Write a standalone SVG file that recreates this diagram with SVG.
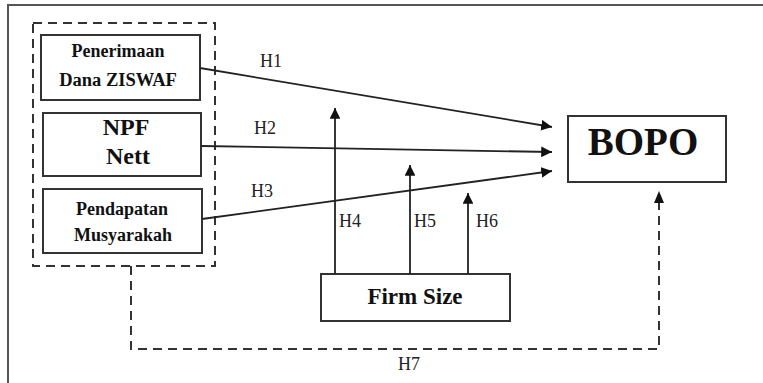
<svg xmlns="http://www.w3.org/2000/svg" width="763" height="383" viewBox="0 0 763 383">
<defs>
<style>
.box{fill:#fff;stroke:#333;stroke-width:2}
.ln{fill:none;stroke:#222;stroke-width:1.8}
.dash{fill:none;stroke:#333;stroke-width:2;stroke-dasharray:9,6}
.t{font-weight:bold;fill:#111;text-anchor:middle}
.h{font-size:18px;fill:#222}
text{font-family:'Liberation Serif','Times New Roman',serif}
</style>
<marker id="ah" viewBox="0 0 10 10" refX="10" refY="5" markerWidth="6" markerHeight="6" markerUnits="strokeWidth" orient="auto">
<path d="M0,0 L10,5 L0,10 z" fill="#111"/>
</marker>
</defs>
<rect x="0" y="0" width="763" height="383" fill="#fff"/>
<rect x="8" y="5" width="800" height="420" fill="none" stroke="#555" stroke-width="2"/>
<g id="group-dashed">
<rect x="33" y="23" width="182" height="243" class="dash"/>
</g>
<g id="n1">
<rect x="41" y="35" width="159" height="65" class="box"/>
<text x="118" y="57" class="t" font-size="18">Penerimaan</text>
<text x="118" y="86" class="t" font-size="18.5">Dana ZISWAF</text>
</g>
<g id="n2">
<rect x="43" y="113" width="158" height="63" class="box"/>
<text x="126" y="135" class="t" font-size="24">NPF</text>
<text x="128" y="164" class="t" font-size="24">Nett</text>
</g>
<g id="n3">
<rect x="43" y="189" width="159" height="64" class="box"/>
<text x="122" y="215" class="t" font-size="18">Pendapatan</text>
<text x="123" y="241" class="t" font-size="18">Musyarakah</text>
</g>
<g id="n4">
<rect x="321" y="274" width="189" height="47" class="box"/>
<text x="415" y="304" class="t" font-size="23">Firm Size</text>
</g>
<g id="n5">
<rect x="568" y="116" width="158" height="66" class="box"/>
<text x="643" y="155" class="t" font-size="39">BOPO</text>
</g>
<g id="connectors">
<line x1="200" y1="68" x2="552" y2="127" class="ln" marker-end="url(#ah)"/>
<line x1="201" y1="146" x2="552" y2="152" class="ln" marker-end="url(#ah)"/>
<line x1="202" y1="219" x2="552" y2="171" class="ln" marker-end="url(#ah)"/>
<line x1="335" y1="274" x2="335" y2="108" class="ln" marker-end="url(#ah)"/>
<line x1="410" y1="274" x2="410" y2="165" class="ln" marker-end="url(#ah)"/>
<line x1="468" y1="274" x2="468" y2="193" class="ln" marker-end="url(#ah)"/>
<path d="M131,266 V349 H659 V202" class="dash"/>
<path d="M654,203 L659,191 L664,203 z" fill="#111"/>
</g>
<g id="labels">
<text x="260" y="67" class="h">H1</text>
<text x="254" y="134" class="h">H2</text>
<text x="251" y="197" class="h">H3</text>
<text x="339" y="227" class="h">H4</text>
<text x="414" y="227" class="h">H5</text>
<text x="476" y="227" class="h">H6</text>
<text x="398" y="370" class="h">H7</text>
</g>
</svg>
